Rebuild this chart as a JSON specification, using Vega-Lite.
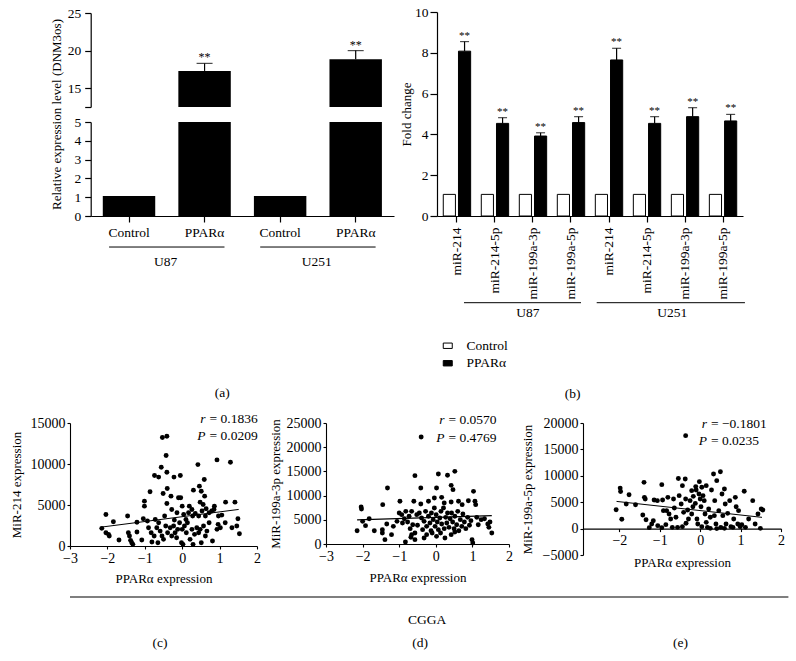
{
  "$schema": "https://vega.github.io/schema/vega-lite/v6.json",
  "background": "white",
  "padding": {"left": 10, "top": 5, "right": 0, "bottom": 0},
  "config": {
    "font": "Liberation Serif",
    "view": {"stroke": null},
    "axis": {"grid": false, "labelOverlap": false, "labelFlush": false, "domainColor": "black", "tickColor": "black", "labelColor": "black", "titleColor": "black", "titleFontWeight": "normal", "labelFont": "Liberation Serif", "titleFont": "Liberation Serif", "domainWidth": 1.1, "tickWidth": 1.1},
    "text": {"font": "Liberation Serif", "color": "black"},
    "title": {"font": "Liberation Serif", "fontWeight": "normal", "fontSize": 13.5, "color": "black"},
    "legend": {"labelFont": "Liberation Serif"}
  },
  "datasets": {
    "a": [
      {"cell": "U87", "key": "U87 Control", "mean": 1.07},
      {"cell": "U87", "key": "U87 PPARα", "mean": 17.3, "upper": 18.3},
      {"cell": "U251", "key": "U251 Control", "mean": 1.07},
      {"cell": "U251", "key": "U251 PPARα", "mean": 18.85, "upper": 20.0}
    ],
    "agroups": [
      {"cell": "U87", "first": "U87 Control", "last": "U87 PPARα"},
      {"cell": "U251", "first": "U251 Control", "last": "U251 PPARα"}
    ],
    "b": [
      {"cell": "U87", "grp": "U87 miR-214", "cond": "Control", "mean": 1.06},
      {"cell": "U87", "grp": "U87 miR-214", "cond": "PPARα", "mean": 8.08, "upper": 8.55},
      {"cell": "U87", "grp": "U87 miR-214-5p", "cond": "Control", "mean": 1.06},
      {"cell": "U87", "grp": "U87 miR-214-5p", "cond": "PPARα", "mean": 4.54, "upper": 4.82},
      {"cell": "U87", "grp": "U87 miR-199a-3p", "cond": "Control", "mean": 1.06},
      {"cell": "U87", "grp": "U87 miR-199a-3p", "cond": "PPARα", "mean": 3.92, "upper": 4.08},
      {"cell": "U87", "grp": "U87 miR-199a-5p", "cond": "Control", "mean": 1.06},
      {"cell": "U87", "grp": "U87 miR-199a-5p", "cond": "PPARα", "mean": 4.58, "upper": 4.87},
      {"cell": "U251", "grp": "U251 miR-214", "cond": "Control", "mean": 1.06},
      {"cell": "U251", "grp": "U251 miR-214", "cond": "PPARα", "mean": 7.65, "upper": 8.22},
      {"cell": "U251", "grp": "U251 miR-214-5p", "cond": "Control", "mean": 1.06},
      {"cell": "U251", "grp": "U251 miR-214-5p", "cond": "PPARα", "mean": 4.54, "upper": 4.87},
      {"cell": "U251", "grp": "U251 miR-199a-3p", "cond": "Control", "mean": 1.06},
      {"cell": "U251", "grp": "U251 miR-199a-3p", "cond": "PPARα", "mean": 4.87, "upper": 5.31},
      {"cell": "U251", "grp": "U251 miR-199a-5p", "cond": "Control", "mean": 1.06},
      {"cell": "U251", "grp": "U251 miR-199a-5p", "cond": "PPARα", "mean": 4.66, "upper": 4.98}
    ],
    "bgroups": [
      {"cell": "U87", "first": "U87 miR-214", "last": "U87 miR-199a-5p", "at": "U87 miR-199a-3p"},
      {"cell": "U251", "first": "U251 miR-214", "last": "U251 miR-199a-5p", "at": "U251 miR-199a-3p"}
    ],
    "c": [
      {"ppara": -2.15, "mir": 2150}, {"ppara": -2.04, "mir": 3850}, {"ppara": -2.04, "mir": 1620}, {"ppara": -1.97, "mir": 1420}, {"ppara": -1.95, "mir": 1220}, {"ppara": -1.84, "mir": 2960}, {"ppara": -1.69, "mir": 730}, {"ppara": -1.46, "mir": 3650}, {"ppara": -1.44, "mir": 1620}, {"ppara": -1.41, "mir": 1220}, {"ppara": -1.38, "mir": 690}, {"ppara": -1.35, "mir": 400}, {"ppara": -1.32, "mir": 200}, {"ppara": -1.21, "mir": 2900}, {"ppara": -1.21, "mir": 1700}, {"ppara": -1.08, "mir": 730}, {"ppara": -1.04, "mir": 3320}, {"ppara": -1.01, "mir": 5470}, {"ppara": -1.01, "mir": 4860}, {"ppara": -0.93, "mir": 3040}, {"ppara": -0.9, "mir": 2230}, {"ppara": -0.86, "mir": 6610}, {"ppara": -0.83, "mir": 1620}, {"ppara": -0.81, "mir": 490}, {"ppara": -0.75, "mir": 1220}, {"ppara": -0.74, "mir": 8600}, {"ppara": -0.72, "mir": 3240}, {"ppara": -0.68, "mir": 2230}, {"ppara": -0.65, "mir": 400}, {"ppara": -0.63, "mir": 8400}, {"ppara": -0.63, "mir": 2840}, {"ppara": -0.59, "mir": 1820}, {"ppara": -0.56, "mir": 9610}, {"ppara": -0.54, "mir": 1220}, {"ppara": -0.53, "mir": 13230}, {"ppara": -0.51, "mir": 6410}, {"ppara": -0.5, "mir": 810}, {"ppara": -0.47, "mir": 3650}, {"ppara": -0.44, "mir": 2430}, {"ppara": -0.43, "mir": 11030}, {"ppara": -0.41, "mir": 13390}, {"ppara": -0.41, "mir": 9000}, {"ppara": -0.41, "mir": 5190}, {"ppara": -0.4, "mir": 7010}, {"ppara": -0.39, "mir": 1620}, {"ppara": -0.32, "mir": 2230}, {"ppara": -0.3, "mir": 6080}, {"ppara": -0.28, "mir": 4460}, {"ppara": -0.28, "mir": 1220}, {"ppara": -0.23, "mir": 2430}, {"ppara": -0.22, "mir": 8400}, {"ppara": -0.21, "mir": 3160}, {"ppara": -0.19, "mir": 1620}, {"ppara": -0.15, "mir": 1010}, {"ppara": -0.14, "mir": 4050}, {"ppara": -0.12, "mir": 2030}, {"ppara": -0.1, "mir": 5880}, {"ppara": -0.07, "mir": 2840}, {"ppara": -0.05, "mir": 8600}, {"ppara": -0.04, "mir": 5880}, {"ppara": -0.02, "mir": 400}, {"ppara": 0.0, "mir": 4860}, {"ppara": 0.0, "mir": 2030}, {"ppara": 0.02, "mir": 200}, {"ppara": 0.04, "mir": 3850}, {"ppara": 0.06, "mir": 2430}, {"ppara": 0.1, "mir": 3240}, {"ppara": 0.11, "mir": 1620}, {"ppara": 0.14, "mir": 2840}, {"ppara": 0.17, "mir": 4050}, {"ppara": 0.19, "mir": 4860}, {"ppara": 0.21, "mir": 810}, {"ppara": 0.26, "mir": 4450}, {"ppara": 0.26, "mir": 2030}, {"ppara": 0.28, "mir": 3650}, {"ppara": 0.29, "mir": 200}, {"ppara": 0.3, "mir": 6810}, {"ppara": 0.33, "mir": 1420}, {"ppara": 0.35, "mir": 3970}, {"ppara": 0.39, "mir": 2230}, {"ppara": 0.42, "mir": 9930}, {"ppara": 0.44, "mir": 3650}, {"ppara": 0.44, "mir": 1620}, {"ppara": 0.46, "mir": 7300}, {"ppara": 0.48, "mir": 5350}, {"ppara": 0.48, "mir": 2030}, {"ppara": 0.51, "mir": 6680}, {"ppara": 0.51, "mir": 400}, {"ppara": 0.53, "mir": 4260}, {"ppara": 0.56, "mir": 5070}, {"ppara": 0.57, "mir": 2430}, {"ppara": 0.59, "mir": 8110}, {"ppara": 0.6, "mir": 6080}, {"ppara": 0.62, "mir": 3650}, {"ppara": 0.62, "mir": 1220}, {"ppara": 0.64, "mir": 4540}, {"ppara": 0.66, "mir": 1820}, {"ppara": 0.72, "mir": 4050}, {"ppara": 0.72, "mir": 2840}, {"ppara": 0.79, "mir": 4260}, {"ppara": 0.81, "mir": 610}, {"ppara": 0.85, "mir": 4450}, {"ppara": 0.86, "mir": 4860}, {"ppara": 0.93, "mir": 10500}, {"ppara": 0.93, "mir": 2030}, {"ppara": 0.96, "mir": 2640}, {"ppara": 0.97, "mir": 3650}, {"ppara": 1.02, "mir": 2230}, {"ppara": 1.06, "mir": 3770}, {"ppara": 1.15, "mir": 2840}, {"ppara": 1.16, "mir": 5350}, {"ppara": 1.29, "mir": 10220}, {"ppara": 1.33, "mir": 2230}, {"ppara": 1.41, "mir": 5350}, {"ppara": 1.46, "mir": 2430}, {"ppara": 1.49, "mir": 3320}, {"ppara": 1.53, "mir": 1500}
    ],
    "cfit": [{"ppara": -2.15, "mir": 2310}, {"ppara": 1.51, "mir": 4460}],
    "d": [
      {"ppara": -0.4, "mir": 22110}, {"ppara": -0.57, "mir": 14120}, {"ppara": 0.07, "mir": 14460}, {"ppara": 0.32, "mir": 14190}, {"ppara": 0.52, "mir": 15010}, {"ppara": -1.32, "mir": 11570}, {"ppara": -0.41, "mir": 11570}, {"ppara": 0.02, "mir": 11570}, {"ppara": 0.42, "mir": 12120}, {"ppara": 0.47, "mir": 11230}, {"ppara": 1.03, "mir": 10880}, {"ppara": -0.98, "mir": 8820}, {"ppara": -0.6, "mir": 8820}, {"ppara": -0.41, "mir": 8260}, {"ppara": -0.2, "mir": 8820}, {"ppara": -0.04, "mir": 9500}, {"ppara": 0.16, "mir": 9640}, {"ppara": 0.23, "mir": 8470}, {"ppara": 0.42, "mir": 8680}, {"ppara": 0.62, "mir": 8820}, {"ppara": 0.72, "mir": 8130}, {"ppara": 0.89, "mir": 8950}, {"ppara": 1.09, "mir": 8130}, {"ppara": 1.07, "mir": 8820}, {"ppara": -1.45, "mir": 8130}, {"ppara": -2.04, "mir": 7640}, {"ppara": -2.03, "mir": 7230}, {"ppara": -2.15, "mir": 2750}, {"ppara": -1.92, "mir": 3790}, {"ppara": -2.0, "mir": 4680}, {"ppara": -1.82, "mir": 5230}, {"ppara": -1.68, "mir": 2750}, {"ppara": -1.46, "mir": 2960}, {"ppara": -1.34, "mir": 4130}, {"ppara": -1.46, "mir": 2270}, {"ppara": -1.39, "mir": 900}, {"ppara": -1.21, "mir": 1930}, {"ppara": -1.16, "mir": 3650}, {"ppara": -1.0, "mir": 6400}, {"ppara": -0.93, "mir": 6060}, {"ppara": -0.86, "mir": 5230}, {"ppara": -0.82, "mir": 6750}, {"ppara": -0.77, "mir": 4550}, {"ppara": -0.7, "mir": 3170}, {"ppara": -0.66, "mir": 6750}, {"ppara": -0.63, "mir": 3990}, {"ppara": -0.83, "mir": 410}, {"ppara": -0.68, "mir": 1380}, {"ppara": -0.57, "mir": 2270}, {"ppara": -0.52, "mir": 6060}, {"ppara": -0.5, "mir": 3860}, {"ppara": -0.45, "mir": 6400}, {"ppara": -0.39, "mir": 5370}, {"ppara": -0.36, "mir": 2960}, {"ppara": -0.32, "mir": 4680}, {"ppara": -0.28, "mir": 6750}, {"ppara": -0.25, "mir": 3650}, {"ppara": -0.2, "mir": 5720}, {"ppara": -0.16, "mir": 4340}, {"ppara": -0.12, "mir": 6400}, {"ppara": -0.1, "mir": 2270}, {"ppara": -0.07, "mir": 5030}, {"ppara": -0.04, "mir": 7440}, {"ppara": -0.02, "mir": 3650}, {"ppara": 0.01, "mir": 6060}, {"ppara": 0.04, "mir": 4550}, {"ppara": 0.07, "mir": 2960}, {"ppara": 0.11, "mir": 5370}, {"ppara": 0.14, "mir": 6750}, {"ppara": 0.16, "mir": 4130}, {"ppara": 0.21, "mir": 7440}, {"ppara": 0.23, "mir": 3170}, {"ppara": 0.27, "mir": 5510}, {"ppara": 0.3, "mir": 4340}, {"ppara": 0.32, "mir": 6400}, {"ppara": 0.36, "mir": 3440}, {"ppara": 0.39, "mir": 5230}, {"ppara": 0.42, "mir": 1930}, {"ppara": 0.43, "mir": 6400}, {"ppara": 0.46, "mir": 4550}, {"ppara": 0.5, "mir": 3170}, {"ppara": 0.52, "mir": 5720}, {"ppara": 0.57, "mir": 3990}, {"ppara": 0.6, "mir": 6750}, {"ppara": 0.63, "mir": 2750}, {"ppara": 0.67, "mir": 5030}, {"ppara": 0.71, "mir": 3650}, {"ppara": 0.74, "mir": 6200}, {"ppara": 0.78, "mir": 4550}, {"ppara": 0.82, "mir": 3170}, {"ppara": 0.87, "mir": 5510}, {"ppara": 0.92, "mir": 3860}, {"ppara": 0.96, "mir": 4820}, {"ppara": 0.99, "mir": 900}, {"ppara": 1.01, "mir": 210}, {"ppara": 1.12, "mir": 5510}, {"ppara": 1.24, "mir": 5030}, {"ppara": 1.33, "mir": 5230}, {"ppara": 1.42, "mir": 4130}, {"ppara": 1.48, "mir": 4550}, {"ppara": 1.53, "mir": 2270}, {"ppara": 1.45, "mir": 3440}, {"ppara": 1.16, "mir": 3990}, {"ppara": -0.91, "mir": 4340}, {"ppara": -1.06, "mir": 4680}, {"ppara": -0.73, "mir": 5720}, {"ppara": -0.25, "mir": 1930}, {"ppara": 0.02, "mir": 1580}, {"ppara": -0.57, "mir": 900}, {"ppara": -0.32, "mir": 1240}, {"ppara": 0.13, "mir": 2270}, {"ppara": -0.13, "mir": 2750}, {"ppara": -0.66, "mir": 1930}, {"ppara": 0.25, "mir": 1240}, {"ppara": 0.52, "mir": 2480}
    ],
    "dfit": [{"ppara": -2.15, "mir": 5000}, {"ppara": 1.53, "mir": 5850}],
    "e": [
      {"ppara": -0.36, "mir": 17600}, {"ppara": -1.98, "mir": 7670}, {"ppara": -1.97, "mir": 7040}, {"ppara": -2.08, "mir": 3580}, {"ppara": -1.94, "mir": 1760}, {"ppara": -1.83, "mir": 4660}, {"ppara": -1.76, "mir": 6420}, {"ppara": -1.6, "mir": 4530}, {"ppara": -1.39, "mir": 8760}, {"ppara": -1.38, "mir": 5920}, {"ppara": -1.36, "mir": 5610}, {"ppara": -1.42, "mir": 2580}, {"ppara": -1.34, "mir": 1690}, {"ppara": -1.26, "mir": 180}, {"ppara": -1.16, "mir": 1500}, {"ppara": -1.14, "mir": 5420}, {"ppara": -1.06, "mir": 5290}, {"ppara": -0.95, "mir": 8320}, {"ppara": -0.93, "mir": 5420}, {"ppara": -0.91, "mir": 3400}, {"ppara": -0.85, "mir": 750}, {"ppara": -0.95, "mir": 180}, {"ppara": -0.8, "mir": 5920}, {"ppara": -0.77, "mir": 2770}, {"ppara": -0.73, "mir": 1820}, {"ppara": -0.69, "mir": 240}, {"ppara": -0.66, "mir": 5610}, {"ppara": -0.6, "mir": 2140}, {"ppara": -0.56, "mir": 240}, {"ppara": -0.54, "mir": 9500}, {"ppara": -0.52, "mir": 6240}, {"ppara": -0.47, "mir": 4660}, {"ppara": -0.44, "mir": 8130}, {"ppara": -0.41, "mir": 3080}, {"ppara": -0.37, "mir": 9380}, {"ppara": -0.36, "mir": 5610}, {"ppara": -0.31, "mir": 3520}, {"ppara": -0.29, "mir": 1820}, {"ppara": -0.25, "mir": 5290}, {"ppara": -0.21, "mir": 7190}, {"ppara": -0.18, "mir": 4150}, {"ppara": -0.17, "mir": 6110}, {"ppara": -0.12, "mir": 4770}, {"ppara": -0.1, "mir": 7320}, {"ppara": -0.08, "mir": 1820}, {"ppara": -0.06, "mir": 870}, {"ppara": -0.03, "mir": 6550}, {"ppara": -0.02, "mir": 8890}, {"ppara": 0.0, "mir": 5610}, {"ppara": 0.02, "mir": 4150}, {"ppara": 0.04, "mir": 370}, {"ppara": 0.07, "mir": 6240}, {"ppara": 0.1, "mir": 5290}, {"ppara": 0.12, "mir": 2770}, {"ppara": 0.15, "mir": 1180}, {"ppara": 0.18, "mir": 240}, {"ppara": 0.21, "mir": 3710}, {"ppara": 0.25, "mir": 2140}, {"ppara": 0.28, "mir": 7320}, {"ppara": 0.33, "mir": 10340}, {"ppara": 0.36, "mir": 5290}, {"ppara": 0.39, "mir": 870}, {"ppara": 0.41, "mir": 9080}, {"ppara": 0.46, "mir": 3400}, {"ppara": 0.5, "mir": 10770}, {"ppara": 0.51, "mir": 240}, {"ppara": 0.54, "mir": 6550}, {"ppara": 0.56, "mir": 2450}, {"ppara": 0.6, "mir": 7510}, {"ppara": 0.62, "mir": 4660}, {"ppara": 0.64, "mir": 870}, {"ppara": 0.68, "mir": 2890}, {"ppara": 0.73, "mir": 5290}, {"ppara": 0.76, "mir": 370}, {"ppara": 0.83, "mir": 1820}, {"ppara": 0.87, "mir": 5920}, {"ppara": 0.89, "mir": 4150}, {"ppara": 0.93, "mir": 870}, {"ppara": 0.95, "mir": 3400}, {"ppara": 0.99, "mir": 370}, {"ppara": 1.03, "mir": 750}, {"ppara": 1.09, "mir": 7070}, {"ppara": 1.2, "mir": 1820}, {"ppara": 1.3, "mir": 5290}, {"ppara": 1.36, "mir": 870}, {"ppara": 1.43, "mir": 2770}, {"ppara": 1.49, "mir": 50}, {"ppara": 1.51, "mir": 3710}, {"ppara": 1.55, "mir": 3520}, {"ppara": 0.35, "mir": 2450}, {"ppara": 0.15, "mir": 8130}, {"ppara": 0.04, "mir": 7820}, {"ppara": -0.11, "mir": 7950}, {"ppara": -0.21, "mir": 2770}, {"ppara": -0.35, "mir": 1000}, {"ppara": -0.44, "mir": 370}, {"ppara": -0.64, "mir": 3900}, {"ppara": -0.83, "mir": 3400}, {"ppara": -1.05, "mir": 560}, {"ppara": -1.2, "mir": 870}, {"ppara": 0.25, "mir": 50}, {"ppara": 0.41, "mir": 0}, {"ppara": 0.6, "mir": 50}, {"ppara": 0.81, "mir": 240}, {"ppara": 1.12, "mir": 240}
    ],
    "efit": [{"ppara": -2.07, "mir": 5150}, {"ppara": 1.53, "mir": 2130}],
    "stats": [
      {"panel": "c", "syms": ["r", "P"], "vals": ["= 0.1836", "= 0.0209"]},
      {"panel": "d", "syms": ["r", "P"], "vals": ["= 0.0570", "= 0.4769"]},
      {"panel": "e", "syms": ["r", "P"], "vals": ["= −0.1801", "= 0.0235"]}
    ],
    "cap": [
      {"row": "line"},
      {"row": "label", "text": "CGGA", "at": "(d)"},
      {"row": "caption", "text": "(c)", "at": "(c)"},
      {"row": "caption", "text": "(d)", "at": "(d)"},
      {"row": "caption", "text": "(e)", "at": "(e)"}
    ]
  },
  "resolve": {"scale": {"fill": "independent"}},
  "spacing": 11,
  "vconcat": [
    {
      "spacing": 6,
      "resolve": {"scale": {"fill": "independent"}},
      "hconcat": [
        {
          "width": 324, "height": 204,
          "title": {"text": "(a)", "orient": "bottom", "anchor": "middle", "frame": "bounds", "offset": 117, "fontSize": 13.5},
          "resolve": {"scale": {"y": "independent"}, "axis": {"y": "independent"}},
          "layer": [
            {
              "data": {"name": "a"},
              "mark": {"type": "bar", "color": "black"},
              "encoding": {
                "x": {"field": "key", "type": "nominal", "title": null, "scale": {"domain": ["U87 Control", "U87 PPARα", "U251 Control", "U251 PPARα"], "range": [20.7, 324], "paddingInner": 0.306, "paddingOuter": 0.16}, "axis": {"title": null, "labelExpr": "split(datum.label, ' ')[1]", "labelAngle": 0, "tickSize": 6, "labelPadding": 3, "labelFontSize": 13.5, "domainWidth": 1.2, "tickWidth": 1.2, "labelOverlap": false}},
                "y": {"field": "mean", "type": "quantitative", "scale": {"domain": [0, 5], "range": [204, 110], "clamp": true, "nice": false, "zero": false}, "axis": {"orient": "left", "offset": -20.7, "values": [0, 1, 2, 3, 4, 5], "tickCount": 12, "format": "d", "title": "Relative expression level (DNM3os)", "titleY": 102, "titleX": -27, "tickSize": 6, "labelPadding": 4, "labelFontSize": 13.5, "titleFontSize": 13, "domainWidth": 1.2, "tickWidth": 1.2, "labelOverlap": false}},
                "y2": {"datum": 0}
              }
            },
            {
              "data": {"name": "a"},
              "layer": [
                {
                  "mark": {"type": "bar", "color": "black"},
                  "encoding": {
                    "x": {"field": "key", "type": "nominal", "title": null},
                    "y": {"field": "mean", "type": "quantitative", "scale": {"domain": [12.5, 25], "range": [95, 1], "clamp": true, "nice": false, "zero": false}, "axis": {"orient": "left", "offset": -20.7, "values": [12.5, 15, 20, 25], "tickCount": 12, "format": "d", "labelExpr": "datum.value == 12.5 ? '' : datum.label", "title": null, "tickSize": 6, "labelPadding": 4, "labelFontSize": 13.5, "domainWidth": 1.2, "tickWidth": 1.2, "labelOverlap": false}},
                    "y2": {"datum": 12.5}
                  }
                },
                {
                  "transform": [{"filter": "isValid(datum.upper)"}],
                  "mark": {"type": "rule", "color": "black", "strokeWidth": 1.2},
                  "encoding": {
                    "x": {"field": "key", "type": "nominal", "title": null},
                    "y": {"field": "mean", "type": "quantitative"},
                    "y2": {"field": "upper"}
                  }
                },
                {
                  "transform": [{"filter": "isValid(datum.upper)"}],
                  "mark": {"type": "tick", "color": "black", "thickness": 1.2, "size": 16},
                  "encoding": {
                    "x": {"field": "key", "type": "nominal", "title": null},
                    "y": {"field": "upper", "type": "quantitative"}
                  }
                },
                {
                  "transform": [{"filter": "isValid(datum.upper)"}],
                  "mark": {"type": "text", "text": "**", "fontSize": 12, "dy": -6, "color": "black"},
                  "encoding": {
                    "x": {"field": "key", "type": "nominal", "title": null},
                    "y": {"field": "upper", "type": "quantitative"}
                  }
                }
              ]
            },
            {
              "data": {"name": "agroups"},
              "layer": [
                {
                  "mark": {"type": "rule", "color": "black", "strokeWidth": 1},
                  "encoding": {
                    "x": {"field": "first", "type": "nominal", "title": null, "bandPosition": 0.12},
                    "x2": {"field": "last", "bandPosition": 0.88},
                    "y": {"datum": -1.65, "type": "quantitative", "scale": {"domain": [0, 5], "range": [204, 110], "nice": false, "zero": false}, "axis": null}
                  }
                },
                {
                  "mark": {"type": "text", "fontSize": 13.5, "baseline": "middle", "color": "black"},
                  "encoding": {
                    "x": {"field": "first", "type": "nominal", "title": null, "bandPosition": 1.2},
                    "y": {"datum": -2.45, "type": "quantitative"},
                    "text": {"field": "cell"}
                  }
                }
              ]
            }
          ]
        },
        {
          "width": 306, "height": 204,
          "title": {"text": "(b)", "orient": "bottom", "anchor": "middle", "frame": "bounds", "offset": 17, "fontSize": 13.5},
          "layer": [
            {
              "data": {"name": "b"},
              "mark": {"type": "bar", "stroke": "black", "strokeWidth": 1},
              "encoding": {
                "x": {"field": "grp", "type": "nominal", "scale": {"domain": ["U87 miR-214", "U87 miR-214-5p", "U87 miR-199a-3p", "U87 miR-199a-5p", "U251 miR-214", "U251 miR-214-5p", "U251 miR-199a-3p", "U251 miR-199a-5p"], "paddingInner": 0.28, "paddingOuter": 0.165}, "axis": {"title": null, "labelExpr": "split(datum.label, ' ')[1]", "labelAngle": -90, "tickSize": 6, "labelPadding": 5, "labelFontSize": 13.5, "domainWidth": 1.2, "tickWidth": 1.2, "labelOverlap": false}},
                "xOffset": {"field": "cond", "type": "nominal", "scale": {"domain": ["Control", "PPARα"], "paddingInner": 0.2, "paddingOuter": 0}},
                "y": {"field": "mean", "type": "quantitative", "scale": {"domain": [0, 10], "nice": false}, "axis": {"values": [0, 2, 4, 6, 8, 10], "tickCount": 12, "format": "d", "title": "Fold change", "titleX": -24, "tickSize": 7, "labelPadding": 2, "labelFontSize": 13.5, "titleFontSize": 13, "domainWidth": 1.2, "tickWidth": 1.2, "labelOverlap": false}},
                "fill": {"field": "cond", "type": "nominal", "scale": {"domain": ["Control", "PPARα"], "range": ["white", "black"]}, "legend": {"orient": "none", "legendX": 4, "legendY": 327, "title": null, "direction": "vertical", "labelFontSize": 13.5, "symbolType": "M-1,-0.6H1V0.6H-1Z", "symbolSize": 81, "symbolStrokeColor": "black", "symbolStrokeWidth": 1, "rowPadding": 2.5, "labelOffset": 12}}
              }
            },
            {
              "data": {"name": "b"},
              "transform": [{"filter": "isValid(datum.upper)"}],
              "mark": {"type": "rule", "color": "black", "strokeWidth": 1.2},
              "encoding": {
                "x": {"field": "grp", "type": "nominal"},
                "xOffset": {"field": "cond", "type": "nominal"},
                "y": {"field": "mean", "type": "quantitative"},
                "y2": {"field": "upper"}
              }
            },
            {
              "data": {"name": "b"},
              "transform": [{"filter": "isValid(datum.upper)"}],
              "mark": {"type": "tick", "color": "black", "thickness": 1.2, "size": 9},
              "encoding": {
                "x": {"field": "grp", "type": "nominal"},
                "xOffset": {"field": "cond", "type": "nominal"},
                "y": {"field": "upper", "type": "quantitative"}
              }
            },
            {
              "data": {"name": "b"},
              "transform": [{"filter": "isValid(datum.upper)"}],
              "mark": {"type": "text", "text": "**", "fontSize": 11, "dy": -6, "color": "black"},
              "encoding": {
                "x": {"field": "grp", "type": "nominal"},
                "xOffset": {"field": "cond", "type": "nominal"},
                "y": {"field": "upper", "type": "quantitative"}
              }
            },
            {
              "data": {"name": "bgroups"},
              "transform": [{"filter": "datum.cell == 'U87'"}],
              "layer": [
                {
                  "mark": {"type": "rule", "color": "black", "strokeWidth": 1},
                  "encoding": {
                    "x": {"field": "first", "type": "nominal", "bandPosition": 0.757},
                    "x2": {"field": "last", "bandPosition": 0.866},
                    "y": {"datum": -4.25, "type": "quantitative"}
                  }
                },
                {
                  "mark": {"type": "text", "fontSize": 13.5, "color": "black"},
                  "encoding": {
                    "x": {"field": "at", "type": "nominal", "bandPosition": 0.31},
                    "y": {"datum": -4.75, "type": "quantitative"},
                    "text": {"field": "cell"}
                  }
                }
              ]
            },
            {
              "data": {"name": "bgroups"},
              "transform": [{"filter": "datum.cell == 'U251'"}],
              "layer": [
                {
                  "mark": {"type": "rule", "color": "black", "strokeWidth": 1},
                  "encoding": {
                    "x": {"field": "first", "type": "nominal", "bandPosition": 0.05},
                    "x2": {"field": "last", "bandPosition": 1.3},
                    "y": {"datum": -4.25, "type": "quantitative"}
                  }
                },
                {
                  "mark": {"type": "text", "fontSize": 13.5, "color": "black"},
                  "encoding": {
                    "x": {"field": "at", "type": "nominal", "bandPosition": 0.03},
                    "y": {"datum": -4.75, "type": "quantitative"},
                    "text": {"field": "cell"}
                  }
                }
              ]
            }
          ]
        }
      ]
    },
    {
      "spacing": 8,
      "hconcat": [
        {
          "width": 187, "height": 123,
          "layer": [
            {
              "data": {"name": "c"},
              "mark": {"type": "circle", "size": 24, "opacity": 1, "color": "black"},
              "encoding": {
                "x": {"field": "ppara", "type": "quantitative", "scale": {"domain": [-3, 2], "nice": false, "zero": false}, "axis": {"values": [-3, -2, -1, 0, 1, 2], "tickCount": 12, "format": "d", "title": "PPARα expression", "titleY": 26, "tickSize": 3, "labelPadding": 2, "labelFontSize": 14, "titleFontSize": 13, "labelOverlap": false, "labelFlush": false}},
                "y": {"field": "mir", "type": "quantitative", "scale": {"domain": [0, 15000], "nice": false}, "axis": {"values": [0, 5000, 10000, 15000], "tickCount": 12, "format": "d", "title": "MiR-214 expression", "titleX": -46.5, "tickSize": 3, "labelPadding": 2, "labelFontSize": 14, "titleFontSize": 13, "labelOverlap": false, "labelFlush": false}}
              }
            },
            {
              "data": {"name": "cfit"},
              "mark": {"type": "line", "color": "black", "strokeWidth": 1},
              "encoding": {"x": {"field": "ppara", "type": "quantitative"}, "y": {"field": "mir", "type": "quantitative"}}
            },
            {
              "data": {"name": "stats"},
              "transform": [{"filter": "datum.panel == 'c'"}],
              "layer": [
                {"mark": {"type": "text", "align": "right", "baseline": "middle", "fontStyle": "italic", "fontSize": 13.5, "lineHeight": 16.7, "dx": -4, "color": "black"}, "encoding": {"x": {"datum": 0.733}, "y": {"datum": 15451}, "text": {"field": "syms"}}},
                {"mark": {"type": "text", "align": "left", "baseline": "middle", "fontSize": 13.5, "lineHeight": 16.7, "color": "black"}, "encoding": {"x": {"datum": 0.733}, "y": {"datum": 15451}, "text": {"field": "vals"}}}
              ]
            }
          ]
        },
        {
          "width": 183, "height": 121,
          "layer": [
            {
              "data": {"name": "d"},
              "mark": {"type": "circle", "size": 24, "opacity": 1, "color": "black"},
              "encoding": {
                "x": {"field": "ppara", "type": "quantitative", "scale": {"domain": [-3, 2], "nice": false, "zero": false}, "axis": {"values": [-3, -2, -1, 0, 1, 2], "tickCount": 12, "format": "d", "title": "PPARα expression", "titleY": 27, "tickSize": 3, "labelPadding": 2, "labelFontSize": 14, "titleFontSize": 13, "labelOverlap": false, "labelFlush": false}},
                "y": {"field": "mir", "type": "quantitative", "scale": {"domain": [0, 25000], "nice": false}, "axis": {"values": [0, 5000, 10000, 15000, 20000, 25000], "tickCount": 12, "format": "d", "title": "MiR-199a-3p expression", "titleX": -43.7, "tickSize": 3, "labelPadding": 2, "labelFontSize": 14, "titleFontSize": 13, "labelOverlap": false, "labelFlush": false}}
              }
            },
            {
              "data": {"name": "dfit"},
              "mark": {"type": "line", "color": "black", "strokeWidth": 1.2},
              "encoding": {"x": {"field": "ppara", "type": "quantitative"}, "y": {"field": "mir", "type": "quantitative"}}
            },
            {
              "data": {"name": "stats"},
              "transform": [{"filter": "datum.panel == 'd'"}],
              "layer": [
                {"mark": {"type": "text", "align": "right", "baseline": "middle", "fontStyle": "italic", "fontSize": 13.5, "lineHeight": 18.3, "dx": -4, "color": "black"}, "encoding": {"x": {"datum": 0.347}, "y": {"datum": 25682}, "text": {"field": "syms"}}},
                {"mark": {"type": "text", "align": "left", "baseline": "middle", "fontSize": 13.5, "lineHeight": 18.3, "color": "black"}, "encoding": {"x": {"datum": 0.347}, "y": {"datum": 25682}, "text": {"field": "vals"}}}
              ]
            }
          ]
        },
        {
          "width": 198, "height": 132,
          "layer": [
            {
              "data": {"name": "e"},
              "mark": {"type": "circle", "size": 24, "opacity": 1, "color": "black"},
              "encoding": {
                "x": {"field": "ppara", "type": "quantitative", "scale": {"domain": [-2.9, 2], "nice": false, "zero": false}, "axis": {"values": [-2, -1, 0, 1, 2], "tickCount": 12, "format": "d", "offset": -26.4, "title": "PPARα expression", "titleY": 27.5, "tickSize": 3, "labelPadding": 2, "labelFontSize": 14, "titleFontSize": 13, "labelOverlap": false, "labelFlush": false}},
                "y": {"field": "mir", "type": "quantitative", "scale": {"domain": [-5000, 20000], "nice": false, "zero": false}, "axis": {"values": [-5000, 0, 5000, 10000, 15000, 20000], "tickCount": 12, "format": "d", "title": "MiR-199a-5p expression", "titleX": -48.5, "tickSize": 3, "labelPadding": 2, "labelFontSize": 14, "titleFontSize": 13, "labelOverlap": false, "labelFlush": false}}
              }
            },
            {
              "data": {"name": "efit"},
              "mark": {"type": "line", "color": "black", "strokeWidth": 1},
              "encoding": {"x": {"field": "ppara", "type": "quantitative"}, "y": {"field": "mir", "type": "quantitative"}}
            },
            {
              "data": {"name": "stats"},
              "transform": [{"filter": "datum.panel == 'e'"}],
              "layer": [
                {"mark": {"type": "text", "align": "right", "baseline": "middle", "fontStyle": "italic", "fontSize": 13.5, "lineHeight": 16.7, "dx": -4, "color": "black"}, "encoding": {"x": {"datum": 0.267}, "y": {"datum": 19811}, "text": {"field": "syms"}}},
                {"mark": {"type": "text", "align": "left", "baseline": "middle", "fontSize": 13.5, "lineHeight": 16.7, "color": "black"}, "encoding": {"x": {"datum": 0.267}, "y": {"datum": 19811}, "text": {"field": "vals"}}}
              ]
            }
          ]
        }
      ]
    },
    {
      "width": 718.4, "height": 46,
      "data": {"name": "cap"},
      "layer": [
        {
          "transform": [{"filter": "datum.row == 'line'"}],
          "mark": {"type": "rule", "color": "black", "strokeWidth": 1.2},
          "encoding": {"y": {"field": "row", "type": "nominal", "scale": {"type": "point", "domain": ["line", "label", "caption"], "padding": 0}, "axis": null}}
        },
        {
          "transform": [{"filter": "datum.row == 'label'"}],
          "mark": {"type": "text", "fontSize": 13.5, "dx": -2, "color": "black"},
          "encoding": {
            "x": {"field": "at", "type": "nominal", "scale": {"type": "point", "domain": ["(c)", "(d)", "(e)"], "padding": 0.38}, "axis": null},
            "y": {"field": "row", "type": "nominal", "axis": null},
            "text": {"field": "text"}
          }
        },
        {
          "transform": [{"filter": "datum.row == 'caption'"}],
          "mark": {"type": "text", "fontSize": 13.5, "dx": -9, "color": "black"},
          "encoding": {
            "x": {"field": "at", "type": "nominal"},
            "y": {"field": "row", "type": "nominal", "axis": null},
            "text": {"field": "text"}
          }
        }
      ]
    }
  ]
}
